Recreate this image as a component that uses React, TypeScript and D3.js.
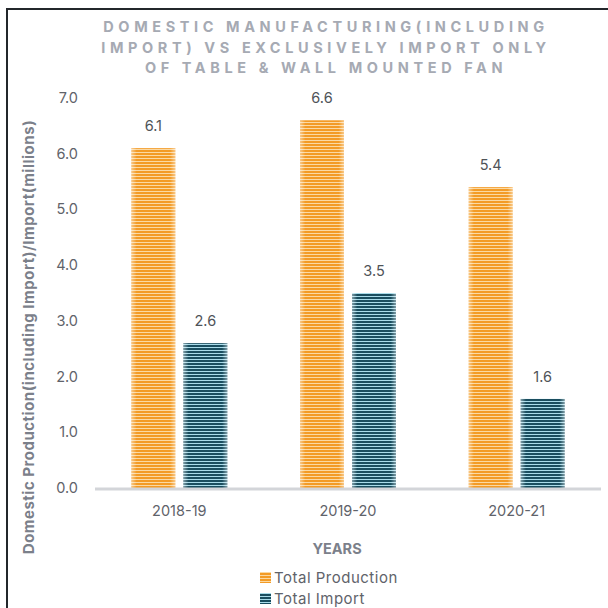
import React from "react";
import * as d3 from "d3";

const categories = ["2018-19", "2019-20", "2020-21"];
const production = [6.1, 6.6, 5.4];
const imports = [2.6, 3.5, 1.6];
const yTicks = [0, 1, 2, 3, 4, 5, 6, 7];
const seriesNames = ["Total Production", "Total Import"];
const titleLines = [
  "DOMESTIC MANUFACTURING(INCLUDING",
  "IMPORT) VS EXCLUSIVELY IMPORT ONLY",
  "OF TABLE & WALL MOUNTED FAN",
];

const W = 608;
const H = 608;
const FONT = "Inter, 'Open Sans', sans-serif";

export default function App() {
  const x0 = d3.scaleBand().domain(categories).range([95, 601]).paddingInner(0).paddingOuter(0);
  const y = d3.scaleLinear().domain([0, 7]).range([488, 98]);
  const barW = 44;
  const gap = 8;
  const series = [
    { name: seriesNames[0], values: production, fill: "url(#patProd)", id: "prod" },
    { name: seriesNames[1], values: imports, fill: "url(#patImp)", id: "imp" },
  ];
  const xBar = (cat: string, si: number) => {
    const c = (x0(cat) as number) + x0.bandwidth() / 2;
    return si === 0 ? c - gap / 2 - barW : c + gap / 2;
  };
  return (
    <svg width={W} height={H} style={{ position: "absolute", left: 0, top: 0, background: "#fff" }}>
      <defs>
        <pattern id="patProd" width="4" height="3" patternUnits="userSpaceOnUse">
          <rect width="4" height="3" fill="#FBD9A3" />
          <rect width="4" height="2" fill="#F39B26" />
        </pattern>
        <pattern id="patImp" width="4" height="3" patternUnits="userSpaceOnUse">
          <rect width="4" height="3" fill="#A9DCEA" />
          <rect width="4" height="2" fill="#1A4E5F" />
        </pattern>
        <linearGradient id="edge" x1="0" x2="1" y1="0" y2="0">
          <stop offset="0" stopColor="#fff" stopOpacity="0.45" />
          <stop offset="0.12" stopColor="#fff" stopOpacity="0" />
          <stop offset="0.88" stopColor="#fff" stopOpacity="0" />
          <stop offset="1" stopColor="#fff" stopOpacity="0.45" />
        </linearGradient>
      </defs>
      <rect x={7} y={9} width={W + 10} height={H + 10} fill="none" stroke="#23272b" strokeWidth={2} />
      {titleLines.map((t, i) => (
        <text
          key={i}
          x={326}
          y={32 + i * 20.5}
          textAnchor="middle"
          fontFamily={FONT}
          fontWeight={700}
          fontSize={14.5}
          letterSpacing={4.6}
          fill="#A6AAB3"
        >
          {t}
        </text>
      ))}
      {yTicks.map((t) => (
        <text
          key={t}
          x={78}
          y={y(t) + 5}
          textAnchor="end"
          fontFamily={FONT}
          fontSize={14.5}
          fill="#5f636a"
        >
          {t.toFixed(1)}
        </text>
      ))}
      <text
        transform={`translate(34,337) rotate(-90)`}
        textAnchor="middle"
        fontFamily={FONT}
        fontWeight={700}
        fontSize={15}
        letterSpacing={0.5}
        fill="#7b808a"
      >
        Domestic Production(including Import)/Import(millions)
      </text>
      {categories.map((c, ci) =>
        series.map((s, si) => {
          const v = s.values[ci];
          const bx = xBar(c, si);
          return (
            <g key={c + s.id}>
              <rect x={bx} y={y(v)} width={barW} height={y(0) - y(v)} fill={s.fill} />
              <rect x={bx} y={y(v)} width={barW} height={y(0) - y(v)} fill="url(#edge)" />
              <text
                x={bx + barW / 2}
                y={y(v) - 17}
                textAnchor="middle"
                fontFamily={FONT}
                fontSize={14.5}
                fill="#4f5358"
              >
                {v.toFixed(1)}
              </text>
            </g>
          );
        })
      )}
      <line x1={95} x2={601} y1={y(0) + 1} y2={y(0) + 1} stroke="#d3d5d9" strokeWidth={3} />
      {categories.map((c) => (
        <text
          key={c}
          x={(x0(c) as number) + x0.bandwidth() / 2}
          y={516}
          textAnchor="middle"
          fontFamily={FONT}
          fontSize={14.5}
          fill="#5f636a"
        >
          {c}
        </text>
      ))}
      <text x={337} y={554} textAnchor="middle" fontFamily={FONT} fontWeight={700} fontSize={14.5} fill="#7b808a">
        YEARS
      </text>
      {series.map((s, i) => (
        <g key={s.id}>
          <rect x={260} y={572 + i * 21} width={11} height={11} fill={s.fill} />
          <text x={274} y={583 + i * 21} fontFamily={FONT} fontSize={15} letterSpacing={0.5} fill="#5f636a">
            {s.name}
          </text>
        </g>
      ))}
    </svg>
  );
}
